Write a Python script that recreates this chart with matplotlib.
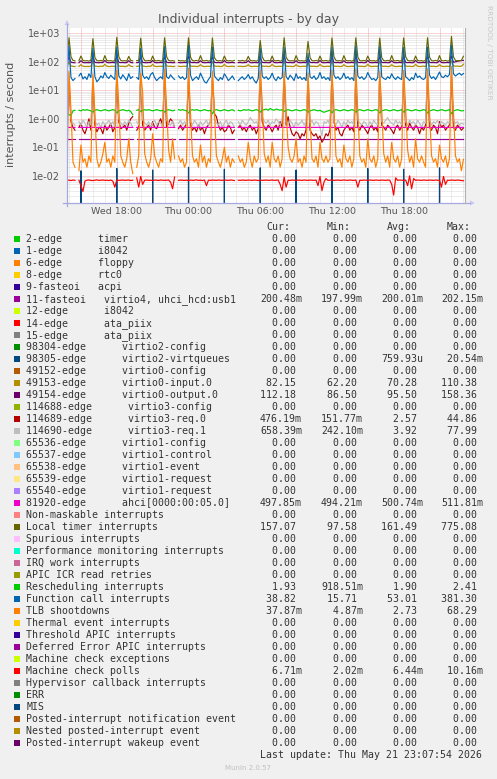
import numpy as np
import pandas as pd
import matplotlib
matplotlib.use("Agg")
import matplotlib.pyplot as plt
import matplotlib.dates as mdates
from matplotlib.patches import Rectangle, Polygon
from matplotlib.ticker import FuncFormatter, LogLocator, NullLocator

nan = float("nan")

# 10-minute samples, Wed 13:50 -> Thu 23:00
times = pd.date_range("2026-05-20 13:50", periods=200, freq="10min")

# --- series (interrupts / second) ---
fasteoi_11 = [
    0.2, 0.2, 0.2, 0.2, 0.2, nan, 0.2, 0.2, 0.2, 0.2,
    0.2, 0.2, 0.2, 0.2, 0.2, 0.2, 0.2, 0.2, 0.2, 0.2,
    0.2, 0.2, 0.2, 0.2, 0.2, 0.2, 0.2, 0.2, 0.2, 0.2,
    0.2, 0.2, 0.2, 0.2, nan, 0.2, 0.2, 0.2, 0.2, 0.2,
    0.2, 0.2, 0.2, 0.2, 0.2, 0.2, 0.2, 0.2, 0.2, 0.2,
    0.2, 0.2, 0.2, 0.2, 0.2, nan, 0.2, 0.2, 0.2, 0.2,
    0.2, 0.2, 0.2, 0.2, 0.2, 0.2, 0.2, 0.2, 0.2, 0.2,
    0.2, 0.2, 0.2, 0.2, 0.2, 0.2, 0.2, 0.2, 0.2, 0.2,
    0.2, 0.2, 0.2, 0.2, 0.2, nan, 0.2, 0.2, 0.2, 0.2,
    0.2, 0.2, 0.2, 0.2, 0.2, 0.2, 0.2, 0.2, 0.2, 0.2,
    0.2, 0.2, 0.2, 0.2, 0.2, 0.2, 0.2, 0.2, 0.2, 0.2,
    0.2, 0.2, 0.2, 0.2, 0.2, 0.2, 0.2, 0.2, 0.2, 0.2,
    0.2, 0.2, 0.2, 0.2, 0.2, 0.2, 0.2, 0.2, 0.2, 0.2,
    0.2, 0.2, 0.2, 0.2, 0.2, 0.2, 0.2, 0.2, 0.2, 0.2,
    0.2, 0.2, 0.2, 0.2, 0.2, 0.2, 0.2, 0.2, 0.2, 0.2,
    0.2, 0.2, 0.2, 0.2, 0.2, 0.2, 0.2, 0.2, 0.2, 0.2,
    0.2, 0.2, 0.2, 0.2, 0.2, 0.2, 0.2, 0.2, 0.2, 0.2,
    0.2, 0.2, 0.2, 0.2, 0.2, 0.2, 0.2, 0.2, 0.2, 0.2,
    0.2, 0.2, 0.2, 0.2, 0.2, 0.2, 0.2, 0.2, 0.2, 0.2,
    0.2, 0.2, 0.2, 0.2, 0.2, 0.2, 0.2, 0.2, 0.2, 0.2,
]
virtio2_vq = [
    0, 0, 0, 0, 0, nan, 0, 0.015, 0, 0,
    0, 0, 0, 0, 0, 0, 0, 0, 0, 0,
    0, 0, 0, 0, 0, 0.018, 0, 0, 0, 0,
    0, 0, 0, 0, nan, 0, 0, 0, 0, 0,
    0, 0, 0, 0.016, 0, 0, 0, 0, 0, 0,
    0, 0, 0, 0, 0, nan, 0, 0, 0, 0,
    0, 0.020, 0, 0, 0, 0, 0, 0, 0, 0,
    0, 0, 0, 0, 0, 0, 0, 0, 0, 0.017,
    0, 0, 0, 0, 0, nan, 0, 0, 0, 0,
    0, 0, 0, 0, 0, 0, 0, 0.019, 0, 0,
    0, 0, 0, 0, 0, 0, 0, 0, 0, 0,
    0, 0, 0, 0, 0, 0.016, 0, 0, 0, 0,
    0, 0, 0, 0, 0, 0, 0, 0, 0, 0,
    0, 0, 0, 0.020, 0, 0, 0, 0, 0, 0,
    0, 0, 0, 0, 0, 0, 0, 0, 0, 0,
    0, 0.018, 0, 0, 0, 0, 0, 0, 0, 0,
    0, 0, 0, 0, 0, 0, 0, 0, 0, 0.017,
    0, 0, 0, 0, 0, 0, 0, 0, 0, 0,
    0, 0, 0, 0, 0, 0, 0, 0.019, 0, 0,
    0, 0, 0, 0, 0, 0, 0, 0, 0, 0,
]
virtio0_input = [
    70, 100, 72, 69, 68, nan, 69, 80, 70, 68,
    69, 68, 70, 105, 71, 69, 68, 70, 69, 82,
    70, 68, 69, 70, 68, 110, 72, 69, 70, 68,
    69, 80, 70, 68, nan, 69, 70, 100, 71, 69,
    68, 70, 69, 82, 70, 68, 69, 70, 68, 105,
    72, 69, 70, 68, 69, nan, 70, 68, 69, 70,
    68, 108, 71, 69, 70, 68, 69, 80, 70, 68,
    69, 70, 68, 102, 71, 69, 70, 68, 69, 82,
    70, 68, 69, 70, 68, nan, 69, 70, 68, 69,
    70, 80, 69, 68, 70, 69, 68, 95, 71, 69,
    70, 68, 69, 82, 70, 68, 69, 70, 68, 104,
    71, 69, 70, 68, 69, 80, 70, 68, 69, 70,
    68, 95, 71, 69, 70, 68, 69, 82, 70, 68,
    69, 70, 68, 106, 71, 69, 70, 68, 69, 80,
    70, 68, 69, 70, 68, 108, 71, 69, 70, 68,
    69, 82, 70, 68, 69, 70, 68, 104, 71, 69,
    70, 68, 69, 80, 70, 68, 69, 70, 68, 106,
    71, 69, 70, 68, 69, 82, 70, 68, 69, 70,
    68, 108, 71, 69, 70, 68, 69, 80, 70, 68,
    69, 70, 68, 110, 72, 70, 71, 69, 70, 82,
]
virtio0_output = [
    95, 150, 97, 94, 93, nan, 94, 110, 95, 93,
    94, 93, 95, 145, 96, 94, 93, 95, 94, 112,
    95, 93, 94, 95, 93, 158, 97, 94, 95, 93,
    94, 110, 95, 93, nan, 94, 95, 148, 96, 94,
    93, 95, 94, 112, 95, 93, 94, 95, 93, 150,
    97, 94, 95, 93, 94, nan, 95, 93, 94, 95,
    93, 155, 96, 94, 95, 93, 94, 110, 95, 93,
    94, 95, 93, 148, 96, 94, 95, 93, 94, 112,
    95, 93, 94, 95, 93, nan, 94, 95, 93, 94,
    95, 110, 94, 93, 95, 94, 93, 140, 96, 94,
    95, 93, 94, 112, 95, 93, 94, 95, 93, 150,
    96, 94, 95, 93, 94, 110, 95, 93, 94, 95,
    93, 140, 96, 94, 95, 93, 94, 112, 95, 93,
    94, 95, 93, 152, 96, 94, 95, 93, 94, 110,
    95, 93, 94, 95, 93, 155, 96, 94, 95, 93,
    94, 112, 95, 93, 94, 95, 93, 150, 96, 94,
    95, 93, 94, 110, 95, 93, 94, 95, 93, 152,
    96, 94, 95, 93, 94, 112, 95, 93, 94, 95,
    93, 155, 96, 94, 95, 93, 94, 110, 95, 93,
    94, 95, 93, 158, 97, 100, 104, 108, 110, 112,
]
virtio3_req0 = [
    0.6, 20, 0.8, 0.5, 0.4, nan, 0.5, 0.7, 0.4, 0.3,
    0.5, 1.0, 0.4, 25, 0.6, 0.35, 0.5, 0.45, 0.3, 0.6,
    0.4, 0.5, 0.7, 0.35, 0.5, 30, 0.8, 0.45, 0.5, 0.6,
    0.4, 0.7, 1.0, 1.2, nan, 0.4, 0.5, 35, 0.6, 0.4,
    0.5, 0.6, 0.4, 0.8, 0.5, 0.45, 0.7, 1.0, 0.6, 40,
    0.5, 0.7, 1.0, 0.8, 0.5, nan, 0.45, 0.6, 0.4, 0.5,
    0.7, 25, 0.6, 0.4, 0.5, 0.35, 0.6, 0.4, 0.5, 0.3,
    0.5, 0.6, 0.8, 30, 1.5, 1.2, 0.6, 0.4, 0.5, 0.35,
    0.4, 0.6, 0.5, 0.3, 0.4, nan, 0.5, 0.6, 0.4, 0.5,
    0.35, 0.5, 0.6, 0.4, 0.5, 0.3, 0.45, 44.86, 0.8, 0.5,
    0.4, 0.6, 0.5, 0.35, 0.5, 0.6, 0.4, 0.8, 0.5, 35,
    0.6, 1.2, 0.5, 0.3, 0.25, 0.35, 0.3, 0.2, 0.3, 0.25,
    0.4, 25, 0.4, 0.3, 0.25, 0.3, 0.2, 0.25, 0.15, 0.2,
    0.3, 0.25, 0.4, 30, 0.8, 0.4, 0.5, 0.3, 0.25, 0.4,
    0.5, 0.6, 0.4, 0.5, 0.35, 28, 0.5, 0.4, 0.6, 0.5,
    0.4, 0.3, 0.5, 0.6, 0.4, 0.5, 0.35, 32, 0.6, 0.5,
    0.4, 0.6, 0.5, 0.4, 0.3, 0.5, 0.6, 0.4, 0.5, 30,
    0.6, 0.4, 0.7, 0.5, 0.4, 0.6, 0.5, 0.3, 0.5, 0.4,
    0.6, 35, 0.5, 0.4, 0.6, 0.5, 0.3, 0.8, 0.5, 0.6,
    0.4, 0.5, 0.6, 38, 0.5, 0.4, 0.6, 0.5, 0.4, 0.476,
]
virtio3_req1 = [
    0.9, 50, 1.0, 0.7, 0.6, nan, 0.8, 0.6, 0.9, 0.7,
    0.5, 0.8, 0.6, 45, 0.9, 0.6, 0.7, 0.5, 0.8, 0.6,
    0.7, 0.9, 0.6, 0.8, 0.5, 70, 1.0, 0.7, 0.6, 0.8,
    0.6, 0.9, 0.7, 0.5, nan, 0.8, 0.6, 55, 0.9, 0.7,
    0.6, 0.8, 0.5, 0.7, 0.9, 0.6, 0.8, 0.7, 0.5, 77.99,
    0.9, 0.7, 0.6, 0.8, 0.5, nan, 0.7, 0.9, 0.6, 0.8,
    0.6, 60, 0.8, 0.6, 0.9, 0.7, 0.5, 0.8, 0.6, 0.7,
    0.9, 0.6, 0.8, 50, 1.0, 0.7, 0.6, 0.8, 0.5, 0.7,
    0.9, 0.6, 0.8, 0.7, 0.5, nan, 0.8, 0.6, 0.9, 0.7,
    0.6, 0.8, 1.1, 0.9, 0.7, 0.8, 0.6, 65, 1.2, 0.8,
    0.7, 0.9, 0.6, 0.8, 0.7, 1.0, 0.8, 0.6, 0.9, 60,
    0.8, 0.6, 0.9, 0.7, 0.5, 0.8, 0.6, 0.7, 0.9, 0.6,
    0.8, 45, 0.7, 0.9, 0.6, 0.8, 0.7, 0.5, 0.25, 0.8,
    0.7, 0.9, 0.6, 55, 0.8, 0.6, 0.9, 0.7, 0.5, 0.8,
    0.6, 0.9, 0.7, 0.8, 0.6, 60, 0.9, 0.7, 0.6, 0.8,
    0.7, 0.5, 0.8, 0.6, 0.9, 0.7, 0.6, 55, 0.8, 0.7,
    0.9, 1.1, 0.8, 0.7, 0.6, 0.9, 0.7, 0.8, 0.6, 50,
    0.8, 0.6, 0.9, 0.7, 0.8, 0.6, 0.9, 0.7, 0.5, 0.8,
    0.7, 60, 0.9, 0.6, 0.8, 0.7, 0.9, 0.6, 0.8, 0.7,
    0.6, 0.8, 0.7, 65, 0.9, 0.7, 0.8, 0.6, 0.7, 0.658,
]
ahci = [
    0.5, 0.5, 0.5, 0.5, 0.5, nan, 0.5, 0.5, 0.5, 0.5,
    0.5, 0.5, 0.5, 0.5, 0.5, 0.5, 0.5, 0.5, 0.5, 0.5,
    0.5, 0.5, 0.5, 0.5, 0.5, 0.5, 0.5, 0.5, 0.5, 0.5,
    0.5, 0.5, 0.5, 0.5, nan, 0.5, 0.5, 0.5, 0.5, 0.5,
    0.5, 0.5, 0.5, 0.5, 0.5, 0.5, 0.5, 0.5, 0.5, 0.5,
    0.5, 0.5, 0.5, 0.5, 0.5, nan, 0.5, 0.5, 0.5, 0.5,
    0.5, 0.5, 0.5, 0.5, 0.5, 0.5, 0.5, 0.5, 0.5, 0.5,
    0.5, 0.5, 0.5, 0.5, 0.5, 0.5, 0.5, 0.5, 0.5, 0.5,
    0.5, 0.5, 0.5, 0.5, 0.5, nan, 0.5, 0.5, 0.5, 0.5,
    0.5, 0.5, 0.5, 0.5, 0.5, 0.5, 0.5, 0.5, 0.5, 0.5,
    0.5, 0.5, 0.5, 0.5, 0.5, 0.5, 0.5, 0.5, 0.5, 0.5,
    0.5, 0.5, 0.5, 0.5, 0.5, 0.5, 0.5, 0.5, 0.5, 0.5,
    0.5, 0.5, 0.5, 0.5, 0.5, 0.5, 0.5, 0.5, 0.5, 0.5,
    0.5, 0.5, 0.5, 0.5, 0.5, 0.5, 0.5, 0.5, 0.5, 0.5,
    0.5, 0.5, 0.5, 0.5, 0.5, 0.5, 0.5, 0.5, 0.5, 0.5,
    0.5, 0.5, 0.5, 0.5, 0.5, 0.5, 0.5, 0.5, 0.5, 0.5,
    0.5, 0.5, 0.5, 0.5, 0.5, 0.5, 0.5, 0.5, 0.5, 0.5,
    0.5, 0.5, 0.5, 0.5, 0.5, 0.5, 0.5, 0.5, 0.5, 0.5,
    0.5, 0.5, 0.5, 0.5, 0.5, 0.5, 0.5, 0.5, 0.5, 0.5,
    0.5, 0.5, 0.5, 0.5, 0.5, 0.5, 0.5, 0.5, 0.5, 0.498,
]
local_timer = [
    130, 700, 150, 112, 108, nan, 110, 160, 112, 108,
    110, 106, 115, 650, 140, 110, 108, 112, 106, 165,
    112, 108, 110, 105, 112, 720, 150, 112, 108, 110,
    106, 155, 112, 108, nan, 110, 112, 680, 145, 110,
    108, 112, 106, 160, 110, 108, 112, 106, 110, 700,
    150, 112, 108, 110, 106, nan, 112, 108, 110, 106,
    112, 700, 145, 110, 108, 112, 106, 165, 110, 108,
    112, 106, 110, 690, 140, 112, 108, 110, 106, 160,
    112, 108, 110, 106, 112, nan, 110, 108, 112, 106,
    110, 155, 112, 108, 110, 106, 112, 560, 150, 110,
    108, 112, 106, 160, 110, 108, 112, 106, 110, 700,
    145, 112, 108, 110, 106, 165, 112, 108, 110, 106,
    112, 520, 140, 110, 108, 112, 106, 160, 110, 108,
    112, 106, 110, 690, 150, 112, 108, 110, 106, 165,
    112, 108, 110, 106, 112, 700, 145, 110, 108, 112,
    106, 160, 112, 108, 110, 106, 112, 680, 140, 110,
    108, 112, 106, 165, 110, 108, 112, 106, 110, 690,
    150, 112, 108, 110, 106, 160, 112, 108, 110, 106,
    112, 700, 145, 110, 108, 112, 106, 165, 110, 108,
    112, 106, 110, 775, 150, 112, 108, 110, 112, 157,
]
rescheduling = [
    1.6, 1.4, 1.3, 1.9, 2.0, nan, 2.0, 1.9, 2.1, 2.0,
    2.1, 2.0, 1.9, 1.7, 2.0, 2.1, 2.0, 1.9, 2.0, 2.1,
    2.0, 1.9, 2.0, 2.1, 2.0, 1.6, 1.9, 2.0, 2.1, 2.0,
    1.9, 2.0, 1.8, 1.4, nan, 2.0, 2.1, 1.8, 2.0, 2.1,
    2.0, 2.1, 2.0, 1.9, 2.0, 2.1, 2.0, 1.9, 2.0, 1.7,
    2.0, 2.1, 2.0, 1.9, 2.0, nan, 2.1, 2.0, 2.1, 2.0,
    1.9, 1.6, 2.0, 2.1, 2.0, 2.1, 2.0, 1.9, 2.0, 2.1,
    2.0, 1.9, 2.0, 1.5, 2.0, 2.1, 2.0, 1.9, 2.0, 2.1,
    2.0, 1.9, 2.0, 2.1, 1.9, nan, 2.0, 1.9, 2.0, 2.1,
    2.0, 2.1, 2.0, 1.9, 2.0, 2.1, 2.0, 1.7, 2.0, 2.1,
    2.2, 2.0, 2.3, 2.1, 2.0, 2.2, 2.1, 2.0, 2.1, 1.8,
    2.0, 2.1, 2.0, 1.9, 2.0, 2.1, 2.0, 1.9, 2.0, 2.1,
    2.0, 1.7, 1.9, 2.0, 2.1, 2.0, 1.9, 2.0, 1.8, 1.7,
    1.8, 1.9, 2.0, 1.6, 2.0, 2.1, 2.0, 1.9, 2.0, 2.1,
    2.0, 1.9, 2.0, 2.1, 2.0, 1.7, 2.0, 2.1, 2.0, 1.9,
    2.0, 2.1, 2.0, 1.9, 2.0, 2.1, 2.0, 1.6, 1.9, 2.0,
    2.1, 2.0, 1.9, 2.0, 2.1, 2.0, 1.9, 2.0, 2.1, 1.7,
    2.0, 2.1, 2.0, 1.9, 2.0, 2.1, 2.0, 1.9, 2.0, 2.1,
    2.0, 1.6, 1.9, 2.0, 2.1, 2.0, 1.9, 2.0, 2.1, 2.0,
    1.9, 2.0, 2.1, 1.5, 1.9, 2.0, 2.1, 2.0, 1.9, 1.93,
]
function_call = [
    35, 350, 28, 22, 26, nan, 32, 40, 25, 30,
    24, 38, 28, 300, 30, 20, 24, 32, 27, 42,
    30, 26, 34, 28, 24, 330, 32, 25, 35, 28,
    22, 38, 26, 30, nan, 28, 24, 300, 34, 26,
    30, 24, 36, 42, 28, 22, 26, 30, 25, 340,
    30, 26, 35, 28, 24, nan, 32, 26, 30, 24,
    28, 380, 34, 22, 26, 30, 24, 40, 28, 20,
    18, 24, 30, 330, 32, 26, 22, 28, 24, 38,
    30, 22, 26, 32, 24, nan, 22, 26, 30, 24,
    28, 36, 25, 30, 22, 18, 26, 300, 32, 26,
    30, 24, 28, 40, 26, 22, 30, 25, 28, 320,
    30, 24, 34, 28, 22, 38, 26, 30, 24, 28,
    22, 200, 30, 26, 32, 24, 28, 42, 26, 30,
    24, 28, 22, 330, 34, 26, 30, 24, 28, 40,
    26, 30, 24, 28, 22, 360, 32, 26, 30, 24,
    28, 42, 30, 24, 26, 22, 28, 340, 30, 26,
    24, 30, 26, 38, 28, 24, 30, 26, 24, 320,
    30, 26, 22, 28, 24, 40, 28, 32, 26, 24,
    28, 330, 34, 26, 30, 24, 32, 44, 30, 28,
    34, 30, 36, 381, 38, 32, 36, 40, 34, 38.8,
]
tlb_shootdowns = [
    0.015, 45, 2.0, 0.03, 0.02, nan, 0.015, 0.12, 0.03, 0.04,
    0.02, 0.05, 0.03, 35, 1.5, 0.04, 0.02, 0.03, 0.06, 0.15,
    0.03, 0.04, 0.02, 0.05, 0.03, 50, 3.0, 0.05, 0.03, 0.02,
    0.04, 0.2, 0.03, 0.012, nan, 0.02, 0.05, 40, 8, 0.06,
    0.03, 0.02, 0.04, 0.3, 0.05, 0.03, 0.02, 0.04, 0.03, 55,
    2.5, 0.08, 0.03, 0.2, 0.04, nan, 0.05, 0.03, 0.04, 0.02,
    0.03, 60, 1.5, 0.05, 0.03, 0.04, 0.02, 0.12, 0.03, 0.05,
    0.02, 0.04, 0.03, 45, 2.0, 0.05, 0.03, 0.02, 0.04, 0.1,
    0.03, 0.05, 0.02, 0.04, 0.03, nan, 0.05, 0.03, 0.04, 0.02,
    0.03, 0.15, 0.04, 0.02, 0.05, 0.03, 0.04, 50, 4, 0.06,
    0.03, 0.05, 0.02, 0.15, 0.04, 0.03, 0.05, 0.02, 0.04, 45,
    2.0, 0.1, 0.04, 0.03, 0.05, 0.2, 0.03, 0.04, 0.02, 0.05,
    0.03, 40, 1.0, 0.04, 0.03, 0.05, 0.02, 0.15, 0.04, 0.03,
    0.05, 0.03, 0.04, 50, 2.5, 0.05, 0.03, 0.04, 0.02, 0.12,
    0.04, 0.03, 0.05, 0.02, 0.04, 55, 1.5, 0.05, 0.03, 0.04,
    0.02, 0.2, 0.04, 0.03, 0.05, 0.02, 0.04, 45, 2.0, 0.06,
    0.03, 0.05, 0.02, 0.15, 0.04, 0.03, 0.05, 0.02, 0.04, 50,
    2.5, 0.08, 0.03, 0.05, 0.02, 0.2, 0.04, 0.03, 0.05, 0.03,
    0.02, 55, 1.5, 0.05, 0.03, 0.04, 0.02, 0.12, 0.04, 0.03,
    0.05, 0.02, 0.04, 68, 2.0, 0.05, 0.03, 0.04, 0.015, 0.038,
]
machine_check_polls = [
    .0072, .0070, .0068, .0071, .0069, nan, .0070, .0045, .0028, .0065,
    .0070, .0071, .0069, .0068, .0070, .0072, .0069, .0070, .0071, .0069,
    .0070, .0068, .0071, .0065, .0040, .0072, .0069, .0070, .0071, .0069,
    .0070, .0071, .0068, .0070, nan, .0085, .0040, .0095, .0050, .0070,
    .0071, .0069, .0070, .0068, .0071, .0070, .0069, .0071, .0070, .0069,
    .0070, .0071, .0060, .0035, .0090, nan, .0069, .0071, .0070, .0069,
    .0070, .0068, .0071, .0069, .0070, .0072, .0069, .0070, .0068, .0071,
    .0045, .0070, .0069, .0071, .0070, .0069, .0071, .0070, .0069, .0071,
    .0070, .0069, .0071, .0070, .0068, nan, .0070, .0069, .0071, .0070,
    .0069, .0071, .0070, .0069, .0071, .0070, .0068, .0071, .0069, .0070,
    .0071, .0069, .0070, .0071, .0069, .0070, .0071, .0050, .0030, .0090,
    .0040, .0070, .0069, .0071, .0070, .0069, .0071, .0070, .0069, .0071,
    .0070, .0069, .0071, .0070, .0069, .0071, .0045, .0095, .0030, .0060,
    .0080, .0069, .0070, .0071, .0069, .0070, .0071, .0069, .0070, .0071,
    .0070, .0069, .0071, .0070, .0069, .0071, .0040, .0070, .0069, .0071,
    .0070, .0069, .0071, .0070, .0069, .0071, .0070, .0069, .0071, .0070,
    .0069, .0071, .0070, .0050, .0021, .0085, .0069, .0071, .0070, .0069,
    .0071, .0045, .0100, .0035, .0080, .0069, .0071, .0070, .0069, .0071,
    .0070, .0069, .0071, .0070, .0069, .0071, .0070, .0069, .0040, .0095,
    .0050, .0070, .0069, .0071, .0070, .0069, .0071, .0070, .0068, .0067,
]

# --- legend table ---
names = [
    "2-edge      timer", "1-edge      i8042", "6-edge      floppy",
    "8-edge      rtc0", "9-fasteoi   acpi",
    "11-fasteoi   virtio4, uhci_hcd:usb1", "12-edge      i8042",
    "14-edge      ata_piix", "15-edge      ata_piix",
    "98304-edge      virtio2-config", "98305-edge      virtio2-virtqueues",
    "49152-edge      virtio0-config", "49153-edge      virtio0-input.0",
    "49154-edge      virtio0-output.0", "114688-edge      virtio3-config",
    "114689-edge      virtio3-req.0", "114690-edge      virtio3-req.1",
    "65536-edge      virtio1-config", "65537-edge      virtio1-control",
    "65538-edge      virtio1-event", "65539-edge      virtio1-request",
    "65540-edge      virtio1-request", "81920-edge      ahci[0000:00:05.0]",
    "Non-maskable interrupts", "Local timer interrupts", "Spurious interrupts",
    "Performance monitoring interrupts", "IRQ work interrupts",
    "APIC ICR read retries", "Rescheduling interrupts",
    "Function call interrupts", "TLB shootdowns", "Thermal event interrupts",
    "Threshold APIC interrupts", "Deferred Error APIC interrupts",
    "Machine check exceptions", "Machine check polls",
    "Hypervisor callback interrupts", "ERR", "MIS",
    "Posted-interrupt notification event", "Nested posted-interrupt event",
    "Posted-interrupt wakeup event",
]
colors = [
    "#00CC00", "#0066B3", "#FF8000", "#FFCC00", "#330099", "#990099",
    "#CCFF00", "#FF0000", "#808080", "#008F00", "#00487D", "#B35A00",
    "#B38F00", "#6B006B", "#8FB300", "#B30000", "#BEBEBE", "#80FF80",
    "#80C9FF", "#FFC080", "#FFE680", "#AA80FF", "#EE00CC", "#FF8080",
    "#666600", "#FFBFFF", "#00FFCC", "#CC6699", "#999900", "#00CC00",
    "#0066B3", "#FF8000", "#FFCC00", "#330099", "#990099", "#CCFF00",
    "#FF0000", "#808080", "#008F00", "#00487D", "#B35A00", "#B38F00",
    "#6B006B",
]
cur_vals = [0, 0, 0, 0, 0, 0.20048, 0, 0, 0, 0, 0, 0, 82.15, 112.18, 0,
            0.47619, 0.65839, 0, 0, 0, 0, 0, 0.49785, 0, 157.07, 0, 0, 0, 0,
            1.93, 38.82, 0.03787, 0, 0, 0, 0, 0.00671, 0, 0, 0, 0, 0, 0]
min_vals = [0, 0, 0, 0, 0, 0.19799, 0, 0, 0, 0, 0, 0, 62.20, 86.50, 0,
            0.15177, 0.24210, 0, 0, 0, 0, 0, 0.49421, 0, 97.58, 0, 0, 0, 0,
            0.91851, 15.71, 0.00487, 0, 0, 0, 0, 0.00202, 0, 0, 0, 0, 0, 0]
avg_vals = [0, 0, 0, 0, 0, 0.20001, 0, 0, 0, 0, 0.00075993, 0, 70.28, 95.50, 0,
            2.57, 3.92, 0, 0, 0, 0, 0, 0.50074, 0, 161.49, 0, 0, 0, 0,
            1.90, 53.01, 2.73, 0, 0, 0, 0, 0.00644, 0, 0, 0, 0, 0, 0]
max_vals = [0, 0, 0, 0, 0, 0.20215, 0, 0, 0, 0, 0.02054, 0, 110.38, 158.36, 0,
            44.86, 77.99, 0, 0, 0, 0, 0, 0.51181, 0, 775.08, 0, 0, 0, 0,
            2.41, 381.30, 68.29, 0, 0, 0, 0, 0.01016, 0, 0, 0, 0, 0, 0]

series = {
    "11-fasteoi   virtio4, uhci_hcd:usb1": fasteoi_11,
    "98305-edge      virtio2-virtqueues": virtio2_vq,
    "49153-edge      virtio0-input.0": virtio0_input,
    "49154-edge      virtio0-output.0": virtio0_output,
    "114689-edge      virtio3-req.0": virtio3_req0,
    "114690-edge      virtio3-req.1": virtio3_req1,
    "81920-edge      ahci[0000:00:05.0]": ahci,
    "Local timer interrupts": local_timer,
    "Rescheduling interrupts": rescheduling,
    "Function call interrupts": function_call,
    "TLB shootdowns": tlb_shootdowns,
    "Machine check polls": machine_check_polls,
}


def si(v):
    # rrdtool style "%6.2lf%s"
    if v == 0:
        return "  0.00 "
    e = int(np.floor(np.log10(abs(v)) / 3))
    prefix = {-2: "u", -1: "m", 0: " ", 1: "k"}[e]
    return f"{v / 1000.0 ** e:6.2f}{prefix}"


W, H = 497, 779
fig = plt.figure(figsize=(W / 100, H / 100), dpi=100, facecolor="#F0F0F0")

# plot area in pixels: x 67..465, y 28..203
ax = fig.add_axes([67 / W, 1 - 203 / H, 398 / W, 175 / H])
ax.set_facecolor("white")
ax.set_yscale("log")
x0 = pd.Timestamp("2026-05-20 13:50")
x1 = pd.Timestamp("2026-05-21 23:08")
ax.set_xlim(x0, x1)
ax.set_ylim(1.11e-3, 1.54e3)

# grid
for n in range(-3, 4):
    for k in range(1, 10):
        v = k * 10.0 ** n
        if k == 1:
            ax.axhline(v, color="#F0A8A8", lw=0.72, ls=(0, (1, 1)), zorder=1)
        else:
            ax.axhline(v, color="#DADADA", lw=0.72, ls=(0, (1, 1)), zorder=0.5)
for h in pd.date_range("2026-05-20 14:00", "2026-05-21 23:00", freq="1h"):
    if h.hour % 3 == 0:
        ax.axvline(h, color="#F0A8A8", lw=0.72, ls=(0, (1, 1)), zorder=1)
    else:
        ax.axvline(h, color="#DADADA", lw=0.72, ls=(0, (1, 1)), zorder=0.5)

for name, col in zip(names, colors):
    if name in series:
        vals = np.array(series[name], dtype=float)
        ax.plot(times, vals, color=col, lw=0.85, zorder=2)

ax.yaxis.set_major_locator(LogLocator(base=10, numticks=10))
ax.yaxis.set_minor_locator(NullLocator())
ax.yaxis.set_major_formatter(FuncFormatter(lambda v, p: f"{v:.0e}"))
ax.xaxis.set_major_locator(mdates.HourLocator(byhour=[0, 6, 12, 18]))
ax.xaxis.set_major_formatter(mdates.DateFormatter("%a %H:%M"))
ax.xaxis.set_minor_locator(NullLocator())
ax.tick_params(axis="y", length=0, pad=5, labelsize=7, labelcolor="#555555")
ax.tick_params(axis="x", length=0, pad=3, labelsize=6.8, labelcolor="#555555")
for s in ax.spines.values():
    s.set_visible(False)

# overlay in pixel coordinates
ov = fig.add_axes([0, 0, 1, 1], facecolor="none")
ov.set_xlim(0, W)
ov.set_ylim(H, 0)
ov.axis("off")

axis_col = "#A8A8E0"
ov.plot([63, 470], [203, 203], color=axis_col, lw=0.9)
ov.plot([67, 67], [206, 24], color=axis_col, lw=0.9)
ov.plot([465, 465], [28, 203], color="#B0B0B0", lw=0.8)
ov.add_patch(Polygon([[470, 200.5], [470, 205.5], [475, 203]], closed=True,
                     color="#C8C8F4", lw=0))
ov.add_patch(Polygon([[64.5, 25], [69.5, 25], [67, 20]], closed=True,
                     color="#C8C8F4", lw=0))

ov.text(248.5, 19.3, "Individual interrupts - by day", ha="center", va="center",
        fontsize=9, color="#555555")
ov.text(10.8, 114, "interrupts / second", rotation=90, ha="center", va="center",
        fontsize=8, color="#555555")
ov.text(488.5, 52.5, "RRDTOOL / TOBI OETIKER", rotation=270, ha="center",
        va="center", fontsize=5.3, color="#C8C8C8")

mono = dict(family="DejaVu Sans Mono", fontsize=7.1, color="#333333", va="center")
for x, lab in zip([266, 326.7, 387.3, 446.7], ["Cur:", "Min:", "Avg:", "Max:"]):
    ov.text(x, 227.3, lab, ha="left", **mono)

col_x = [260, 321, 381, 441]
for i, name in enumerate(names):
    y = 239.3 + 12.0 * i
    ov.add_patch(Rectangle((14, y - 3), 6, 6, color=colors[i], lw=0))
    ov.text(26.3, y, name, ha="left", **mono)
    for x, v in zip(col_x, [cur_vals[i], min_vals[i], avg_vals[i], max_vals[i]]):
        ov.text(x, y, si(v), ha="left", **mono)

ov.text(482, 755.3, "Last update: Thu May 21 23:07:54 2026", ha="right", **mono)
ov.text(248, 768.5, "Munin 2.0.57", ha="center", va="center", fontsize=5,
        color="#C0C0C0")

plt.savefig("out.png", dpi=100, facecolor=fig.get_facecolor())
